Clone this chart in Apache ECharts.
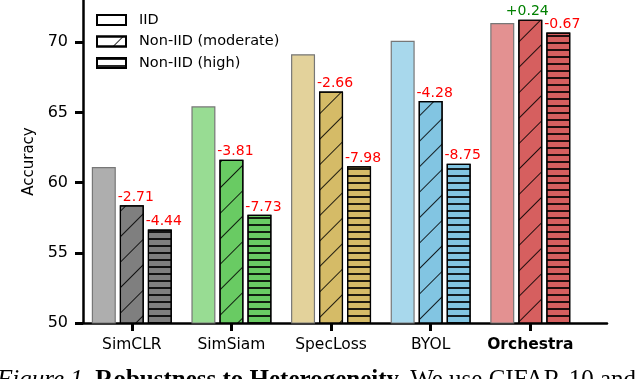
<!DOCTYPE html>
<html lang="en">

<head>
    <meta charset="UTF-8">
    <script src="https://cdn.jsdelivr.net/npm/echarts@6.0.0/dist/echarts.min.js"></script>
    <title>Robustness to Heterogeneity</title>
    <style>
        body { margin: 0; background: #fff; }
    </style>
</head>

<body>
    <div id="main" style="width: 640px;height:379px;"></div>

    <script>
        // methods and accuracies
        var methods = ['SimCLR', 'SimSiam', 'SpecLoss', 'BYOL', 'Orchestra'];
        var iidAcc = [61.10, 65.43, 69.14, 70.09, 71.36];
        var moderateAcc = [58.39, 61.62, 66.48, 65.81, 71.60];
        var highAcc = [56.66, 57.70, 61.16, 61.34, 70.69];
        var moderateDelta = ['-2.71', '-3.81', '-2.66', '-4.28', '+0.24'];
        var highDelta = ['-4.44', '-7.73', '-7.98', '-8.75', '-0.67'];
        var yTicks = [50, 55, 60, 65, 70];

        var lightColors = ['#aeaeae', '#98dc93', '#e3d29b', '#a8d8ec', '#e39191'];
        var darkColors = ['#7f7f7f', '#69cb63', '#d5bb67', '#82c5e2', '#d65f5f'];

        var font = 'DejaVu Sans';
        var xTicks = methods.map(function (m, i) { return i; });

        function makeData(values, colors, border, deltas) {
            return values.map(function (v, i) {
                var item = {
                    value: [i, v],
                    itemStyle: { color: colors[i], borderColor: border }
                };
                if (deltas) {
                    var up = deltas[i].charAt(0) == '+';
                    item.label = {
                        show: true,
                        position: 'top',
                        distance: 1,
                        offset: [up ? -3 : 4, 0],
                        formatter: deltas[i],
                        color: up ? '#008000' : '#ff0000',
                        fontSize: 14,
                        fontFamily: font
                    };
                }
                return item;
            });
        }

        var slash = {
            symbol: 'rect',
            symbolSize: 1,
            color: 'rgba(0,0,0,0.85)',
            dashArrayX: [1, 0],
            dashArrayY: [1, 17],
            rotation: -Math.PI / 4
        };
        var dash = {
            symbol: 'rect',
            symbolSize: 1,
            color: 'rgba(0,0,0,0.85)',
            dashArrayX: [1, 0],
            dashArrayY: [1.5, 4.5],
            rotation: 0
        };

        var myChart = echarts.init(document.getElementById('main'));

        var option = {
            animation: false,
            grid: { left: 83, right: 33, top: 0, bottom: 56 },
            legend: {
                orient: 'vertical',
                left: 96,
                top: 12.5,
                padding: 0,
                itemWidth: 29,
                itemHeight: 10,
                itemGap: 6.5,
                icon: 'rect',
                textStyle: { fontSize: 14.5, fontFamily: font, color: '#000', padding: [0, 0, 0, 8] },
                data: ['IID', 'Non-IID (moderate)', 'Non-IID (high)']
            },
            xAxis: {
                type: 'value',
                min: -0.49,
                max: 4.77,
                splitLine: { show: false },
                axisLine: { onZero: false, lineStyle: { color: '#000', width: 2.5 } },
                axisTick: { customValues: xTicks, length: 8, lineStyle: { color: '#000', width: 3 } },
                axisLabel: {
                    customValues: xTicks,
                    margin: 14,
                    fontSize: 15.5,
                    fontFamily: font,
                    color: '#000',
                    formatter: function (v) {
                        var name = methods[Math.round(v)];
                        return name == 'Orchestra' ? '{b|' + name + '}' : name;
                    },
                    rich: { b: { fontWeight: 'bold', fontSize: 15.5, fontFamily: font, color: '#000' } }
                }
            },
            yAxis: {
                type: 'value',
                min: 50,
                max: 73,
                name: 'Accuracy',
                nameLocation: 'middle',
                nameGap: 40,
                nameTextStyle: { fontSize: 15, fontFamily: font, color: '#000' },
                splitLine: { show: false },
                axisLine: { show: true, onZero: false, lineStyle: { color: '#000', width: 2.5 } },
                axisTick: { show: true, customValues: yTicks, length: 8, lineStyle: { color: '#000', width: 3 } },
                axisLabel: { customValues: yTicks, margin: 15, fontSize: 16, fontFamily: font, color: '#000' }
            },
            graphic: [{
                type: 'text',
                left: -3,
                top: 368,
                style: {
                    text: '{i|Figure 1.} {b|Robustness to Heterogeneity.} We use CIFAR-10 and',
                    font: '25px "Liberation Serif"',
                    fill: '#000',
                    rich: {
                        i: { fontStyle: 'italic', fontSize: 25, fontFamily: 'Liberation Serif' },
                        b: { fontWeight: 'bold', fontSize: 25, fontFamily: 'Liberation Serif' }
                    }
                }
            }],
            series: [{
                name: 'IID',
                type: 'bar',
                barWidth: 24,
                barGap: '16.7%',
                itemStyle: { color: '#fff', borderColor: '#000', borderWidth: 1.2 },
                data: makeData(iidAcc, lightColors, '#777', null)
            }, {
                name: 'Non-IID (moderate)',
                type: 'bar',
                barWidth: 24,
                barGap: '16.7%',
                itemStyle: { color: '#fff', borderColor: '#000', borderWidth: 1.2, decal: slash },
                data: makeData(moderateAcc, darkColors, '#000', moderateDelta)
            }, {
                name: 'Non-IID (high)',
                type: 'bar',
                barWidth: 24,
                barGap: '16.7%',
                itemStyle: { color: '#fff', borderColor: '#000', borderWidth: 1.2, decal: dash },
                data: makeData(highAcc, darkColors, '#000', highDelta)
            }]
        };

        myChart.setOption(option);
    </script>

</body>

</html>
